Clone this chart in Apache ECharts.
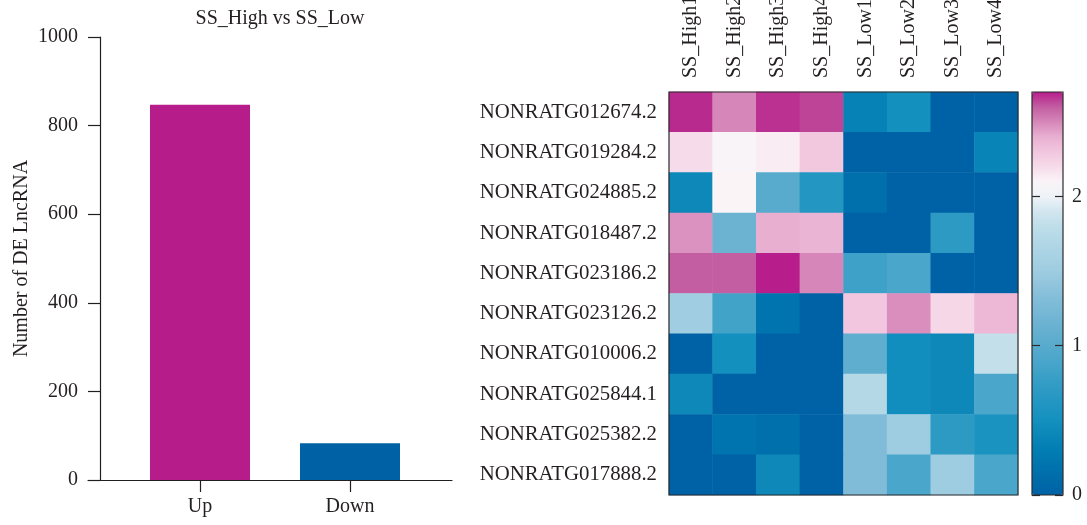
<!DOCTYPE html>
<html>
<head>
<meta charset="utf-8">
<style>
  html, body { margin: 0; padding: 0; background: #ffffff; }
  #chart { width: 1087px; height: 525px; }
</style>
<script src="https://cdn.jsdelivr.net/npm/echarts@6/dist/echarts.min.js"></script>
</head>
<body>
<div id="chart"></div>
<script>
// ---------- data ----------
const barTitle = 'SS_High vs SS_Low';
const barCategories = ['Up', 'Down'];
const barValues = [847, 83];
const barAxisName = 'Number of DE LncRNA';

const sampleNames = ['SS_High1', 'SS_High2', 'SS_High3', 'SS_High4', 'SS_Low1', 'SS_Low2', 'SS_Low3', 'SS_Low4'];
const geneNames = ['NONRATG012674.2', 'NONRATG019284.2', 'NONRATG024885.2', 'NONRATG018487.2', 'NONRATG023186.2',
                   'NONRATG023126.2', 'NONRATG010006.2', 'NONRATG025844.1', 'NONRATG025382.2', 'NONRATG017888.2'];
const row01 = [2.68, 2.50, 2.67, 2.64, 0.36, 0.50, 0.00, 0.00];
const row02 = [2.20, 2.08, 2.13, 2.29, 0.00, 0.00, 0.00, 0.38];
const row03 = [0.42, 2.10, 1.00, 0.62, 0.15, 0.00, 0.00, 0.00];
const row04 = [2.47, 1.15, 2.40, 2.38, 0.00, 0.00, 0.70, 0.00];
const row05 = [2.60, 2.60, 2.70, 2.50, 0.82, 0.90, 0.00, 0.00];
const row06 = [1.52, 0.85, 0.20, 0.00, 2.30, 2.48, 2.22, 2.36];
const row07 = [0.00, 0.50, 0.00, 0.00, 1.05, 0.48, 0.42, 1.82];
const row08 = [0.42, 0.00, 0.00, 0.00, 1.72, 0.48, 0.42, 0.90];
const row09 = [0.00, 0.20, 0.16, 0.00, 1.30, 1.50, 0.70, 0.55];
const row10 = [0.00, 0.00, 0.42, 0.00, 1.30, 0.90, 1.50, 0.90];
const heatRows = [row01, row02, row03, row04, row05, row06, row07, row08, row09, row10];
const colorbarTicks = [0, 1, 2];
const colorbarMax = 2.7;

// ---------- styles ----------
const FONT = 'Liberation Serif';
const TXT = '#231f20';
const barColors = ['#b71c8b', '#0062a5'];
const heatColors = ['#0062a6', '#006ba9', '#0074ae', '#027db3', '#0b86b8', '#1490bf', '#2095c2', '#2d9ac4',
  '#3ba0c7', '#4aa6cb', '#58abcd', '#66b0d0', '#73b6d4', '#80bcd8', '#8fc4dc', '#9ecce1', '#a8d2e4', '#b3d7e7',
  '#bedde9', '#d2e6ef', '#eef3f7', '#faf4f7', '#f6dbea', '#f1c6de', '#e8afd1', '#d686b9', '#c25ea1', '#b71d8b'];

// ---------- build ----------
const barPos = barCategories.map((c, i) => 2 + 3 * i);
const barData = barValues.map((v, i) => ({
  value: [barPos[i], v],
  itemStyle: { color: barColors[i] }
}));

const heatData = [];
heatRows.forEach((row, r) => row.forEach((v, c) => heatData.push([c, r, v])));

const chart = echarts.init(document.getElementById('chart'), null, { renderer: 'canvas' });
const textBase = { fontFamily: FONT, fontSize: 20, color: TXT };
const rowText = { fontFamily: FONT, fontSize: 20.8, color: TXT };

chart.setOption({
  animation: false,
  backgroundColor: '#ffffff',
  title: {
    text: barTitle,
    left: 275, top: 4, textAlign: 'center',
    textStyle: { fontFamily: FONT, fontSize: 20, fontWeight: 'normal', color: TXT }
  },
  grid: [
    { left: 88, top: 37, width: 364, height: 443, outerBoundsMode: 'none' },
    { left: 669, top: 92, width: 349, height: 403, show: true, borderColor: '#2b2b2b', borderWidth: 1.2, z: 10, backgroundColor: 'transparent', outerBoundsMode: 'none' },
    { left: 1032, top: 92, width: 31, height: 403, show: true, borderColor: '#2b2b2b', borderWidth: 1.2, z: 10, backgroundColor: 'transparent', outerBoundsMode: 'none' }
  ],
  xAxis: [
    {
      gridIndex: 0, type: 'value', min: -0.24, max: 7.04,
      splitLine: { show: false },
      axisLine: { show: true, lineStyle: { color: TXT, width: 1.2 } },
      axisTick: { show: true, length: 12, customValues: barPos, lineStyle: { color: TXT, width: 1.2 } },
      axisLabel: Object.assign({ customValues: barPos, margin: 17,
        formatter: v => barCategories[barPos.indexOf(v)] || '' }, textBase)
    },
    {
      gridIndex: 1, type: 'category', position: 'top', data: sampleNames,
      axisLine: { show: false }, axisTick: { show: false }, splitLine: { show: false },
      axisLabel: Object.assign({ rotate: -90, margin: 14, interval: 0 }, textBase)
    },
    {
      gridIndex: 2, type: 'value', min: 0, max: 1, show: false
    }
  ],
  yAxis: [
    {
      gridIndex: 0, type: 'value', min: 0, max: 1000, interval: 200, offset: -12,
      name: barAxisName, nameLocation: 'middle', nameGap: 68,
      nameTextStyle: textBase,
      splitLine: { show: false },
      axisLine: { show: true, lineStyle: { color: TXT, width: 1.2 } },
      axisTick: { show: true, length: 12, lineStyle: { color: TXT, width: 1.2 } },
      axisLabel: Object.assign({ margin: 22, formatter: v => String(v) }, textBase)
    },
    {
      gridIndex: 1, type: 'category', data: geneNames, inverse: true,
      axisLine: { show: false }, axisTick: { show: false }, splitLine: { show: false },
      axisLabel: Object.assign({ margin: 12, interval: 0 }, rowText)
    },
    {
      gridIndex: 2, type: 'value', min: 0, max: colorbarMax, position: 'left', z: 12,
      splitLine: { show: false },
      axisLine: { show: false },
      axisTick: { show: true, inside: true, length: 8, customValues: colorbarTicks, lineStyle: { color: '#2b2b2b', width: 1.2 } },
      axisLabel: { show: false }
    },
    {
      gridIndex: 2, type: 'value', min: 0, max: colorbarMax, position: 'right', z: 12,
      splitLine: { show: false },
      axisLine: { show: false },
      axisTick: { show: true, inside: true, length: 8, customValues: colorbarTicks, lineStyle: { color: '#2b2b2b', width: 1.2 } },
      axisLabel: Object.assign({ margin: 9, customValues: colorbarTicks }, textBase)
    }
  ],
  visualMap: {
    type: 'continuous', seriesIndex: 1, min: 0, max: colorbarMax,
    left: 1032, top: 92, itemWidth: 31, itemHeight: 403, padding: 0,
    calculable: false, hoverLink: false, orient: 'vertical',
    inRange: { color: heatColors }, z: 4
  },
  series: [
    {
      type: 'bar', xAxisIndex: 0, yAxisIndex: 0, data: barData, barWidth: 100
    },
    {
      type: 'heatmap', xAxisIndex: 1, yAxisIndex: 1, data: heatData,
      itemStyle: { borderWidth: 0 },
      emphasis: { disabled: true }
    }
  ]
});
</script>
</body>
</html>
